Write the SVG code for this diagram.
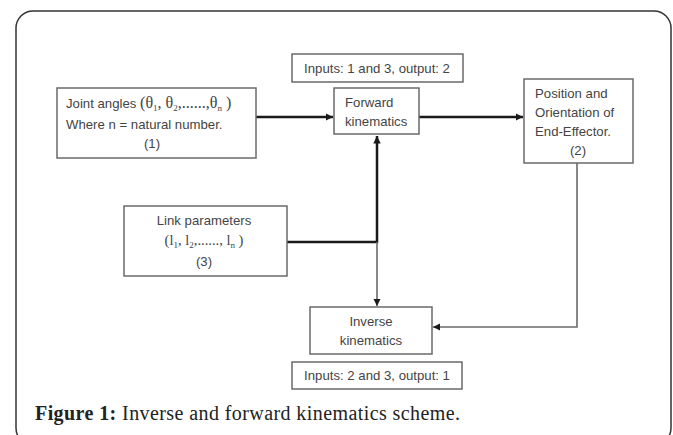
<svg xmlns="http://www.w3.org/2000/svg" width="673" height="435" viewBox="0 0 673 435">
<style>
.box{fill:#fff;stroke:#6a6a6a;stroke-width:1.5}
.t{font-family:"Liberation Sans",Arial,sans-serif;font-size:13.2px;fill:#444}
.m{font-family:"Liberation Serif","Times New Roman",serif;font-size:14.5px;fill:#444}
.big{font-size:16px}
.sub{font-size:9px}
.thick{fill:none;stroke:#1a1a1a;stroke-width:2.5}
.thin{fill:none;stroke:#6a6a6a;stroke-width:1.6}
.cap{font-family:"Liberation Serif","Times New Roman",serif;font-size:20px;fill:#222}
</style>
<defs>
<marker id="ah" viewBox="0 0 10 10" refX="10" refY="5" markerWidth="3" markerHeight="3" orient="auto" markerUnits="strokeWidth">
<path d="M0,0 L10,5 L0,10 z" fill="#1a1a1a"/>
</marker>
<marker id="ah2" viewBox="0 0 10 10" refX="10" refY="5" markerWidth="4.5" markerHeight="4.5" orient="auto" markerUnits="strokeWidth">
<path d="M0,0 L10,5 L0,10 z" fill="#1a1a1a"/>
</marker>
</defs>
<rect x="0" y="0" width="673" height="435" fill="#fff"/>
<rect x="16" y="11" width="655" height="434" rx="17" ry="17" fill="none" stroke="#333" stroke-width="1.5"/>

<g id="connectors">
<path class="thick" d="M256,117 H333" marker-end="url(#ah)"/>
<path class="thick" d="M419,117 H523" marker-end="url(#ah)"/>
<path class="thick" d="M287,242 H377 V136" marker-end="url(#ah)"/>
<path class="thin" d="M377,242 V306" marker-end="url(#ah2)"/>
<path class="thin" d="M577,163 V327 H433" marker-end="url(#ah2)"/>
</g>

<g id="joint-angles">
<rect class="box" x="57" y="88" width="199" height="70"/>
<text class="t" x="66" y="108">Joint angles <tspan class="m big">(θ<tspan class="sub" dy="3">1</tspan><tspan dy="-3">, θ</tspan><tspan class="sub" dy="3">2</tspan><tspan dy="-3">,......,θ</tspan><tspan class="sub" dy="3">n</tspan><tspan dy="-3"> )</tspan></tspan></text>
<text class="t" x="66" y="129">Where n = natural number.</text>
<text class="t" x="152" y="148" text-anchor="middle">(1)</text>
</g>

<g id="inputs-top">
<rect class="box" x="292" y="54" width="171" height="28"/>
<text class="t" x="377" y="73" text-anchor="middle">Inputs: 1 and 3, output: 2</text>
</g>

<g id="forward">
<rect class="box" x="334" y="88" width="85" height="46"/>
<text class="t" x="345" y="107">Forward</text>
<text class="t" x="345" y="126">kinematics</text>
</g>

<g id="position">
<rect class="box" x="524" y="79" width="109" height="84"/>
<text class="t" x="535" y="98">Position and</text>
<text class="t" x="535" y="117">Orientation of</text>
<text class="t" x="535" y="136">End-Effector.</text>
<text class="t" x="578" y="155" text-anchor="middle">(2)</text>
</g>

<g id="link">
<rect class="box" x="124" y="206" width="163" height="70"/>
<text class="t" x="204" y="225" text-anchor="middle">Link parameters</text>
<text class="m" x="204" y="245" text-anchor="middle">(l<tspan class="sub" dy="3">1</tspan><tspan dy="-3">, l</tspan><tspan class="sub" dy="3">2</tspan><tspan dy="-3">,......, l</tspan><tspan class="sub" dy="3">n</tspan><tspan dy="-3"> )</tspan></text>
<text class="t" x="204" y="266" text-anchor="middle">(3)</text>
</g>

<g id="inverse">
<rect class="box" x="310" y="307" width="122" height="47"/>
<text class="t" x="371" y="326" text-anchor="middle">Inverse</text>
<text class="t" x="371" y="345" text-anchor="middle">kinematics</text>
</g>

<g id="inputs-bottom">
<rect class="box" x="292" y="362" width="170" height="27"/>
<text class="t" x="377" y="380" text-anchor="middle">Inputs: 2 and 3, output: 1</text>
</g>

<text class="cap" x="35" y="420" textLength="425" lengthAdjust="spacing"><tspan font-weight="bold">Figure 1:</tspan> Inverse and forward kinematics scheme.</text>
</svg>
